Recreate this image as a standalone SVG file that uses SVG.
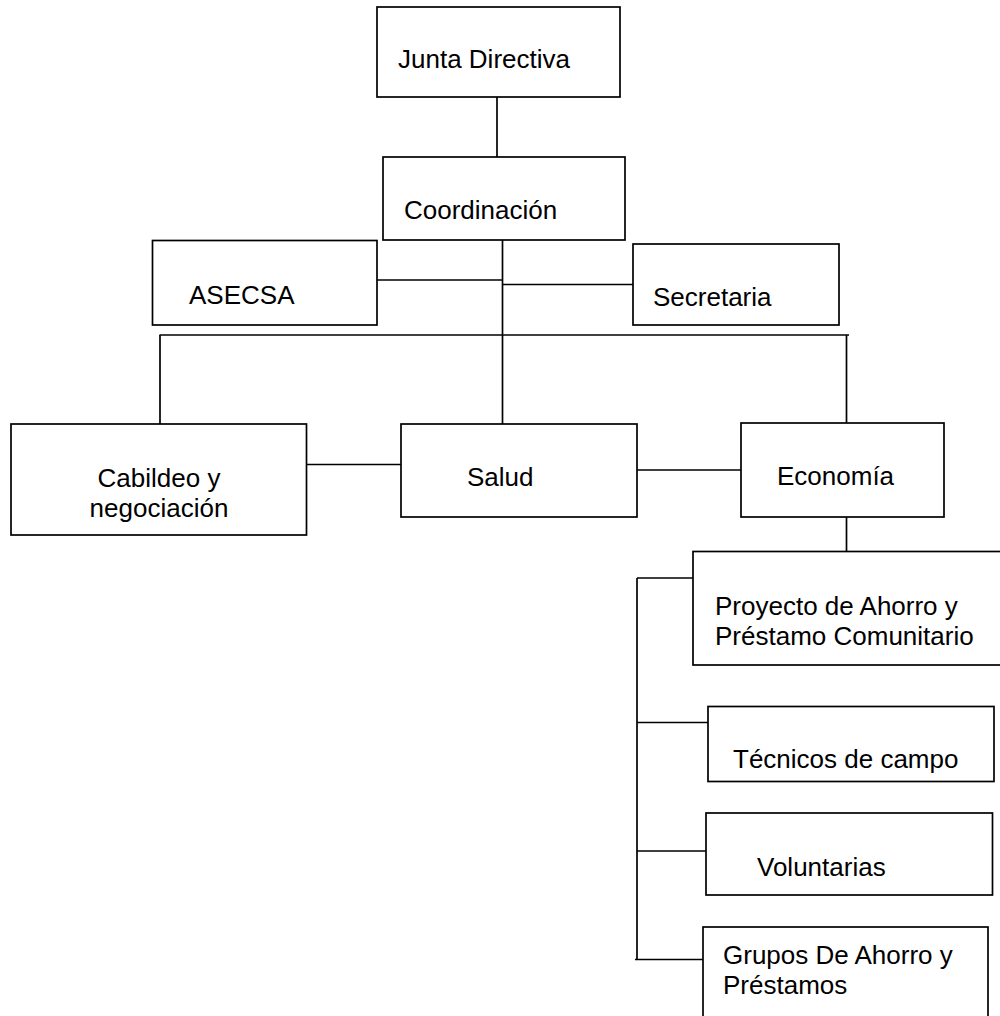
<svg xmlns="http://www.w3.org/2000/svg" width="1000" height="1016" viewBox="0 0 1000 1016">
<style>
.box{fill:#fff;stroke:#000;stroke-width:1.7}
.ln{fill:none;stroke:#000;stroke-width:1.7}
text{font-family:"Liberation Sans",Arial,sans-serif;font-size:26px;fill:#000}
</style>
<rect width="1000" height="1016" fill="#fff"/>
<g id="connectors">
<line class="ln" x1="497" y1="97" x2="497" y2="157"/>
<line class="ln" x1="502.5" y1="240" x2="502.5" y2="424"/>
<line class="ln" x1="377" y1="280" x2="502.5" y2="280"/>
<line class="ln" x1="502.5" y1="284.5" x2="633" y2="284.5"/>
<line class="ln" x1="159.5" y1="335" x2="849" y2="335"/>
<line class="ln" x1="160" y1="335" x2="160" y2="424"/>
<line class="ln" x1="846.5" y1="335" x2="846.5" y2="423"/>
<line class="ln" x1="306" y1="464.5" x2="401" y2="464.5"/>
<line class="ln" x1="637" y1="470" x2="741" y2="470"/>
<line class="ln" x1="846.5" y1="517" x2="846.5" y2="551.5"/>
<line class="ln" x1="637" y1="578" x2="637" y2="959.5"/>
<line class="ln" x1="637" y1="578" x2="693" y2="578"/>
<line class="ln" x1="637" y1="722.5" x2="708" y2="722.5"/>
<line class="ln" x1="637" y1="851" x2="706" y2="851"/>
<line class="ln" x1="635" y1="959.5" x2="703" y2="959.5"/>
</g>
<g id="junta"><rect class="box" x="377" y="7" width="243" height="90"/><text x="398" y="68">Junta Directiva</text></g>
<g id="coordinacion"><rect class="box" x="383" y="157" width="242" height="83"/><text x="404" y="219">Coordinación</text></g>
<g id="asecsa"><rect class="box" x="152.5" y="240.5" width="224.5" height="84.5"/><text x="189" y="304">ASECSA</text></g>
<g id="secretaria"><rect class="box" x="633" y="244" width="206" height="81"/><text x="653" y="306">Secretaria</text></g>
<g id="cabildeo"><rect class="box" x="11" y="424" width="295.5" height="111"/><text x="159" y="487" text-anchor="middle">Cabildeo y</text><text x="159" y="517" text-anchor="middle">negociación</text></g>
<g id="salud"><rect class="box" x="401" y="424" width="236" height="93"/><text x="467" y="486">Salud</text></g>
<g id="economia"><rect class="box" x="741" y="423" width="203" height="94"/><text x="777" y="485">Economía</text></g>
<g id="proyecto"><rect class="box" x="693" y="551.5" width="312" height="113.5"/><text x="715" y="615">Proyecto de Ahorro y</text><text x="715" y="645">Préstamo Comunitario</text></g>
<g id="tecnicos"><rect class="box" x="708" y="706.5" width="286" height="75"/><text x="733" y="768">Técnicos de campo</text></g>
<g id="voluntarias"><rect class="box" x="706" y="813" width="286.5" height="82"/><text x="757" y="876">Voluntarias</text></g>
<g id="grupos"><rect class="box" x="703" y="927" width="285" height="100"/><text x="723" y="964">Grupos De Ahorro y</text><text x="723" y="994">Préstamos</text></g>
</svg>
